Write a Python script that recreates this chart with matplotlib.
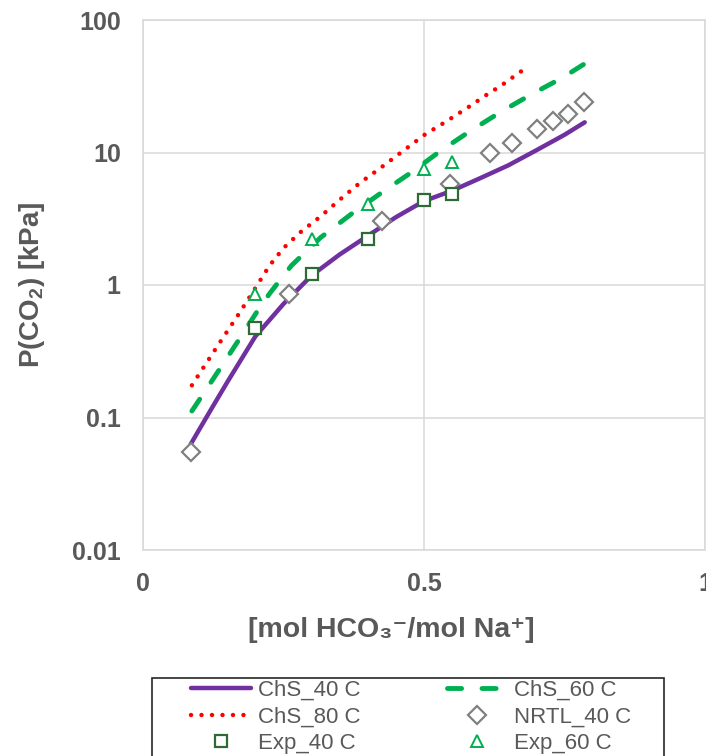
import matplotlib
matplotlib.use("Agg")
import matplotlib.pyplot as plt
from matplotlib.patches import Rectangle

plt.rcParams['font.family'] = ['Liberation Sans', 'DejaVu Sans']
plt.rcParams['mathtext.default'] = 'regular'

# model curves
chs40_x = [0.085, 0.10, 0.12, 0.15, 0.20, 0.25, 0.30, 0.35, 0.40, 0.45, 0.50, 0.55, 0.60, 0.65, 0.70, 0.75, 0.786]
chs40_y = [0.063, 0.081, 0.113, 0.185, 0.41, 0.72, 1.18, 1.7, 2.35, 3.25, 4.3, 5.15, 6.4, 8.0, 10.4, 13.6, 16.9]

chs60_x = [0.087, 0.11, 0.137, 0.173, 0.205, 0.226, 0.264, 0.316, 0.374, 0.426, 0.478, 0.531, 0.582, 0.637, 0.692, 0.747, 0.794]
chs60_y = [0.112, 0.157, 0.234, 0.40, 0.65, 0.87, 1.4, 2.28, 3.52, 5.03, 7.1, 10.4, 14.5, 20.3, 27.6, 36.8, 49.2]

chs80_x = [0.087, 0.10, 0.137, 0.17, 0.20, 0.225, 0.25, 0.28, 0.317, 0.35, 0.386, 0.42, 0.459, 0.502, 0.54, 0.579, 0.61, 0.64, 0.685]
chs80_y = [0.175, 0.213, 0.37, 0.6, 0.95, 1.4, 1.9, 2.5, 3.32, 4.4, 5.9, 7.5, 10.0, 13.7, 17.2, 22.0, 27.0, 32.6, 44.6]

# NRTL model points
nrtl40_x = [0.085, 0.259, 0.425, 0.547, 0.617, 0.656, 0.701, 0.730, 0.757, 0.785]
nrtl40_y = [0.055, 0.855, 3.04, 5.75, 9.95, 11.8, 15.1, 17.4, 19.5, 24.1]

# experimental data
exp_x = [0.2, 0.3, 0.4, 0.5, 0.55]
exp40_y = [0.47, 1.21, 2.22, 4.36, 4.83]
exp60_y = [0.855, 2.24, 4.06, 7.54, 8.45]

label_color = '#595959'
grid_color = '#d9d9d9'

fig = plt.figure(figsize=(7.06, 7.56), dpi=100)
ax = fig.add_axes([143/706, 1-550/756, (705-143)/706, (550-20)/756])

l40, = ax.plot(chs40_x, chs40_y, color='#7030a0', lw=3.2, solid_capstyle='round', label='ChS_40 C')
l60, = ax.plot(chs60_x, chs60_y, color='#00b050', lw=3.5, linestyle=(0, (2.9, 4.2)),
               dash_capstyle='round', label='ChS_60 C')
l80, = ax.plot(chs80_x, chs80_y, color='#ff0000', lw=3.2, linestyle=(0, (0.01, 2.35)),
               dash_capstyle='round', label='ChS_80 C')
nr, = ax.plot(nrtl40_x, nrtl40_y, linestyle='none', marker='D', markersize=9,
              markerfacecolor='white', markeredgecolor='#808080', markeredgewidth=1.6, label='NRTL_40 C')
e40, = ax.plot(exp_x, exp40_y, linestyle='none', marker='s', markersize=8,
               markerfacecolor='white', markeredgecolor='#2d6a36', markeredgewidth=1.6, label='Exp_40 C')
e60, = ax.plot(exp_x, exp60_y, linestyle='none', marker='^', markersize=8,
               markerfacecolor='white', markeredgecolor='#00b050', markeredgewidth=1.4, label='Exp_60 C')

ax.set_yscale('log')
ax.set_xlim(0, 1)
ax.set_ylim(0.01, 100)
ax.set_xticks([0, 0.5, 1])
ax.set_xticklabels(['0', '0.5', '1'])
ax.set_yticks([0.01, 0.1, 1, 10, 100])
ax.set_yticklabels(['0.01', '0.1', '1', '10', '100'])
ax.minorticks_off()
ax.tick_params(length=0, pad=16, labelsize=18, labelcolor=label_color)
for t in ax.get_xticklabels() + ax.get_yticklabels():
    t.set_fontweight('bold')
ax.grid(True, color=grid_color, lw=1.1)
ax.set_axisbelow(True)
for s in ax.spines.values():
    s.set_color(grid_color)
    s.set_linewidth(1.1)

ax.set_ylabel('P(CO$_2$) [kPa]', fontsize=20, fontweight='bold', color=label_color, labelpad=18)
fig.text(391/706, 1-630/756, '[mol HCO\u2083\u207b/mol Na\u207a]', fontsize=20.5, fontweight='bold',
         color=label_color, ha='center', va='center')

# legend box (cut off by the bottom of the figure)
fig.patches.append(Rectangle((152/706, -0.05), (664-152)/706, 0.05+1-678/756,
                             transform=fig.transFigure, facecolor='none',
                             edgecolor='#262626', lw=1.2))
leg = fig.legend(handles=[l40, l80, e40, l60, nr, e60], ncol=2, frameon=False,
                 loc='upper left', bbox_to_anchor=(191/706, 1-680/756), borderpad=0,
                 fontsize=16, handlelength=2.7, handletextpad=0.3, columnspacing=3.9,
                 labelspacing=0.24, borderaxespad=0)
for t in leg.get_texts():
    t.set_color(label_color)

fig.savefig('out.png', dpi=100)
